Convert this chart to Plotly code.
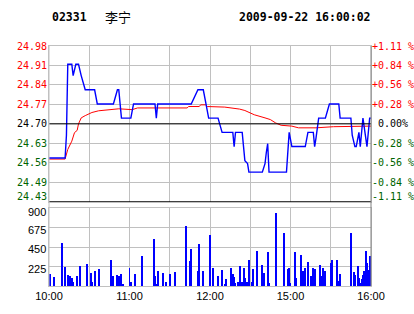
import plotly.graph_objects as go

# ---------------- data ----------------
stock_code = "02331"
stock_name = "李宁"
stamp = "2009-09-22 16:00:02"
prev_close = 24.70

# minute index: 0 = 10:00, 150 = 12:30 / 14:30, 240 = 16:00
price_min = [0, 12, 13, 14, 17, 18, 20, 22, 24, 27, 34, 36, 48, 51, 52, 54, 61, 63,
             79, 80, 81, 106, 111, 115, 117, 119, 126, 129, 137, 138, 139, 144, 145,
             146, 148, 149, 159, 161, 162, 163, 164, 177, 179, 180, 181, 191, 193,
             197, 198, 199, 201, 206, 209, 216, 217, 225, 226, 228, 229, 231, 232,
             234, 237, 239, 240]
price_val = [24.58, 24.58, 24.66, 24.91, 24.91, 24.87, 24.91, 24.91, 24.87, 24.82,
             24.82, 24.77, 24.77, 24.82, 24.82, 24.72, 24.72, 24.77, 24.77, 24.72,
             24.77, 24.77, 24.82, 24.82, 24.77, 24.72, 24.72, 24.67, 24.67, 24.62,
             24.67, 24.67, 24.62, 24.57, 24.56, 24.53, 24.53, 24.56, 24.60, 24.63,
             24.53, 24.53, 24.67, 24.64, 24.62, 24.62, 24.67, 24.67, 24.62, 24.65,
             24.72, 24.72, 24.77, 24.77, 24.72, 24.72, 24.66, 24.62, 24.62, 24.67,
             24.62, 24.72, 24.62, 24.72, 24.72]

avg_min = [0, 12, 14, 17, 19, 21, 22, 24, 27, 32, 37, 42, 52, 62, 66, 103, 104, 112,
           113, 117, 118, 131, 136, 142, 146, 148, 153, 161, 165, 169, 173, 181, 186,
           199, 212, 240]
avg_val = [24.576, 24.576, 24.610, 24.639, 24.669, 24.677, 24.700, 24.721, 24.729,
           24.740, 24.746, 24.749, 24.753, 24.750, 24.756, 24.756, 24.761, 24.761,
           24.767, 24.767, 24.761, 24.759, 24.756, 24.752, 24.747, 24.742, 24.732,
           24.721, 24.715, 24.703, 24.695, 24.692, 24.686, 24.686, 24.690, 24.692]

vol_min = [0, 1, 4, 10, 12, 14, 15, 16, 17, 18, 21, 23, 28, 31, 32, 34, 37, 46, 48,
           51, 52, 54, 55, 60, 61, 64, 69, 78, 79, 80, 81, 85, 87, 90, 94, 102, 105,
           106, 111, 112, 115, 120, 122, 126, 129, 131, 132, 136, 137, 138, 139, 141,
           142, 144, 145, 146, 147, 148, 149, 151, 152, 155, 159, 160, 163, 164, 169,
           175, 178, 179, 180, 183, 184, 188, 189, 190, 191, 193, 195, 197, 198, 202,
           203, 204, 206, 210, 211, 215, 216, 217, 225, 227, 228, 230, 231, 232, 233,
           234, 235, 236, 237, 238, 239, 240]
vol_val = [140, 140, 103, 494, 218, 126, 65, 115, 92, 46, 115, 230, 253, 149, 46, 172,
           195, 299, 115, 126, 115, 138, 23, 207, 46, 138, 345, 540, 115, 23, 172, 149,
           46, 138, 161, 690, 287, 425, 172, 482, 172, 586, 207, 115, 184, 23, 80, 207,
           138, 103, 34, 46, 230, 46, 207, 92, 46, 46, 299, 46, 195, 402, 241, 149, 391,
           34, 839, 609, 195, 207, 34, 391, 92, 356, 172, 161, 207, 276, 115, 207, 195,
           241, 115, 207, 172, 264, 299, 299, 57, 138, 609, 161, 126, 230, 92, 34, 80,
           126, 172, 402, 264, 184, 345, 46]

price_tick_labels = ["24.98", "24.91", "24.84", "24.77", "24.70",
                     "24.63", "24.56", "24.49", "24.43"]
pct_tick_labels = ["+1.11 %", "+0.84 %", "+0.56 %", "+0.28 %", " 0.00%",
                   "-0.28 %", "-0.56 %", "-0.84 %", "-1.11 %"]
vol_tick_vals = [225, 450, 675, 900]
vol_tick_text = ["225", "450", "675", "900"]
time_grid_min = [0, 30, 60, 90, 120, 150, 180, 210, 240]
time_grid_text = ["10:00", "", "11:00", "", "12:00", "", "15:00", "", "16:00"]

# ---------------- derived scale ----------------
step = prev_close * 0.0111 / 4
price_ticks = [prev_close + (4 - k) * step for k in range(9)]
p_lo, p_hi = prev_close - 4 * step, prev_close + 4 * step

RED, GREEN, BLACK, BLUE = "#FF0000", "#006400", "#000000", "#0000FF"
GRID = "#C0C0C0"
MONO = "DejaVu Sans Mono"
SANS = "Liberation Sans, Arial, sans-serif"

W, H = 414, 314
L, R, T, B = 49, 43, 46, 26
ph = H - T - B  # 242


def py(pix):  # pixel y -> paper y
    return (H - B - pix) / ph


def px(pix):
    return (pix - L) / (W - L - R)


fig = go.Figure()
fig.add_trace(go.Scatter(x=avg_min, y=avg_val, mode="lines",
                         line=dict(color=RED, width=1), xaxis="x", yaxis="y",
                         hoverinfo="skip"))
fig.add_trace(go.Scatter(x=price_min, y=price_val, mode="lines",
                         line=dict(color=BLUE, width=1.4), xaxis="x", yaxis="y",
                         hoverinfo="skip"))
fig.add_trace(go.Bar(x=vol_min, y=vol_val, width=0.75,
                     marker=dict(color=BLUE, line=dict(width=0)),
                     xaxis="x2", yaxis="y2"))

price_dom = [py(203), 1]
vol_dom = [0, py(209.7)]

fig.update_layout(
    width=W, height=H, showlegend=False,
    margin=dict(l=L, r=R, t=T, b=B),
    paper_bgcolor="white", plot_bgcolor="white",
    bargap=0,
    xaxis=dict(domain=[0, 1], range=[0, 240], anchor="y", tickvals=time_grid_min,
               showticklabels=False, showgrid=True, gridcolor=GRID, gridwidth=1,
               zeroline=False, showline=True, mirror=True, linecolor=GRID, ticks=""),
    yaxis=dict(domain=price_dom, range=[p_lo, p_hi], tickvals=price_ticks,
               showticklabels=False, showgrid=True, gridcolor=GRID, zeroline=False,
               showline=True, mirror=True, linecolor=GRID, ticks=""),
    xaxis2=dict(domain=[0, 1], range=[0, 240], anchor="y2", tickvals=time_grid_min,
                ticktext=time_grid_text, showgrid=True, gridcolor=GRID, zeroline=False,
                showline=True, mirror=True, linecolor=GRID, ticks="",
                tickfont=dict(family=SANS, size=11, color=BLACK)),
    yaxis2=dict(domain=vol_dom, range=[0, 900], tickvals=[0] + vol_tick_vals,
                showticklabels=False, showgrid=True, gridcolor=GRID, zeroline=False,
                showline=True, mirror=True, linecolor=GRID, ticks=""),
)

shapes = [
    dict(type="line", xref="x", yref="y", x0=0, x1=240, y0=prev_close, y1=prev_close,
         line=dict(color=BLACK, width=1)),
    dict(type="line", xref="x", yref="y", x0=0, x1=240, y0=p_lo, y1=p_lo,
         line=dict(color=BLACK, width=1.3)),
    dict(type="line", xref="paper", yref="paper", x0=1, x1=1, y0=0, y1=1,
         line=dict(color="#808080", width=1)),
    dict(type="line", xref="paper", yref="paper", x0=0, x1=0, y0=0, y1=1,
         line=dict(color=GRID, width=1)),
]
fig.update_layout(shapes=shapes)

ann = []
for k, (v, lt, rt) in enumerate(zip(price_ticks, price_tick_labels, pct_tick_labels)):
    col = RED if k < 4 else (BLACK if k == 4 else GREEN)
    ys = 5 if k == 8 else 0
    ann.append(dict(xref="paper", yref="y", x=0, y=v, text=lt, showarrow=False,
                    xanchor="right", yanchor="middle", xshift=0, yshift=ys,
                    font=dict(family=MONO, size=10, color=col)))
    ann.append(dict(xref="paper", yref="y", x=1, y=v, text=rt.replace(" ", "&nbsp;"),
                    showarrow=False, xanchor="left", yanchor="middle", xshift=-1,
                    yshift=ys, font=dict(family=MONO, size=10, color=col)))

for v, t in zip(vol_tick_vals, vol_tick_text):
    ann.append(dict(xref="paper", yref="y2", x=0, y=v, text=t, showarrow=False,
                    xanchor="right", yanchor="middle", xshift=-1,
                    yshift=-3.5 if v == 900 else -2,
                    font=dict(family=SANS, size=11, color=BLACK)))

ann.append(dict(xref="paper", yref="paper", x=px(50), y=py(17), text=f"<b>{stock_code}</b>",
                showarrow=False, xanchor="left", yanchor="middle",
                font=dict(family=MONO, size=11.5, color=BLACK)))
ann.append(dict(xref="paper", yref="paper", x=px(103), y=py(16), text=stock_name,
                showarrow=False, xanchor="left", yanchor="middle",
                font=dict(family="Noto Sans CJK SC", size=13, color=BLACK)))
ann.append(dict(xref="paper", yref="paper", x=px(237), y=py(17), text=f"<b>{stamp}</b>",
                showarrow=False, xanchor="left", yanchor="middle",
                font=dict(family=MONO, size=11.5, color=BLACK)))
fig.update_layout(annotations=ann)

fig.write_html("out.html")
